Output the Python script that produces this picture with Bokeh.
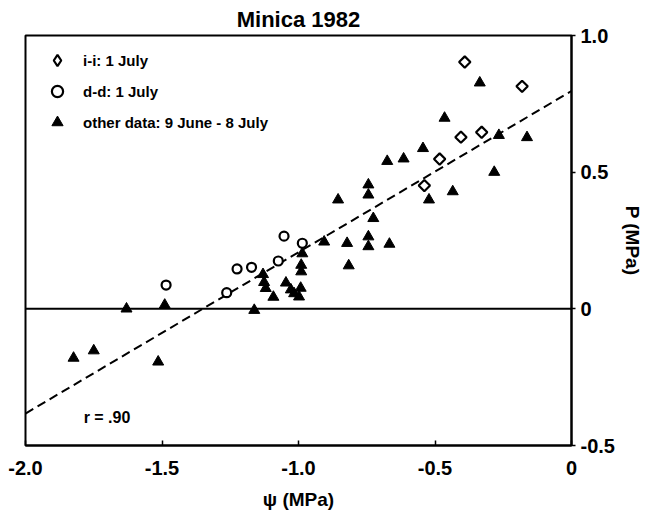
import math
from bokeh.plotting import figure
from bokeh.models import (Range1d, FixedTicker, Span, Label, Legend, LegendItem)
from bokeh.embed import file_html
from bokeh.resources import INLINE

# ---- data ----
ii_x = [-0.391, -0.181, -0.405, -0.329, -0.483, -0.539]
ii_y = [0.903, 0.814, 0.628, 0.646, 0.548, 0.451]

dd_x = [-1.485, -1.263, -1.225, -1.172, -1.074, -1.053, -0.986]
dd_y = [0.087, 0.059, 0.146, 0.152, 0.175, 0.266, 0.240]

other_x = [-1.824, -1.750, -1.514, -1.630, -1.490, -1.162,
           -1.130, -1.126, -1.120, -1.092, -1.046, -1.028, -1.016, -0.998, -0.992,
           -0.986, -0.990, -0.990,
           -0.906, -0.855, -0.822, -0.816, -0.744, -0.744, -0.744, -0.744, -0.726,
           -0.667, -0.675, -0.615, -0.544, -0.522, -0.465, -0.435, -0.336, -0.283,
           -0.266, -0.163]
other_y = [-0.180, -0.153, -0.194, 0.000, 0.014, -0.005,
           0.126, 0.097, 0.075, 0.043, 0.095, 0.070, 0.056, 0.044, 0.076,
           0.202, 0.160, 0.136,
           0.245, 0.399, 0.240, 0.158, 0.454, 0.417, 0.264, 0.228, 0.331,
           0.237, 0.540, 0.549, 0.587, 0.399, 0.698, 0.429, 0.827, 0.500,
           0.635, 0.627]

fit_slope = 0.59
fit_intercept = 0.797
r_text = "r = .90"

x_ticks = [-2.0, -1.5, -1.0, -0.5, 0.0]
x_tick_labels = ["-2.0", "-1.5", "-1.0", "-0.5", "0"]
y_ticks = [-0.5, 0.0, 0.5, 1.0]
y_tick_labels = ["-0.5", "0", "0.5", "1.0"]

FONT = "Liberation Sans"
INK = "black"

p = figure(width=647, height=520, output_backend="svg", toolbar_location=None,
           x_range=Range1d(-2.0, 0.0), y_range=Range1d(-0.5, 1.0),
           y_axis_location="right", title="Minica 1982",
           min_border_left=25, min_border_right=76, min_border_top=33,
           min_border_bottom=77)
p.frame_width = 546
p.frame_height = 410
p.grid.visible = False
p.background_fill_color = "white"
p.border_fill_color = "white"
p.outline_line_color = INK
p.outline_line_width = 2

p.title.align = "center"
p.title.text_font = FONT
p.title.text_font_style = "bold"
p.title.text_font_size = "22px"
p.title.text_color = INK
p.title.standoff = 8

xa = p.xaxis[0]
xa.ticker = FixedTicker(ticks=x_ticks)
xa.major_label_overrides = dict(zip(x_ticks, x_tick_labels))
xa.major_tick_in = 5
xa.major_tick_out = 0
xa.minor_tick_line_color = None
xa.axis_line_width = 2
xa.axis_line_color = INK
xa.major_tick_line_color = INK
xa.major_tick_line_width = 1.5
xa.major_label_text_font = FONT
xa.major_label_text_font_style = "bold"
xa.major_label_text_font_size = "20px"
xa.major_label_text_color = INK
xa.major_label_standoff = 15
xa.axis_label = "\u03c8 (MPa)"
xa.axis_label_text_font = FONT
xa.axis_label_text_font_style = "bold"
xa.axis_label_text_font_size = "19px"
xa.axis_label_text_color = INK
xa.axis_label_standoff = 11

ya = p.yaxis[0]
ya.ticker = FixedTicker(ticks=y_ticks)
ya.major_label_overrides = dict(zip(y_ticks, y_tick_labels))
ya.major_tick_in = 0
ya.major_tick_out = 4
ya.minor_tick_line_color = None
ya.axis_line_width = 2
ya.axis_line_color = INK
ya.major_tick_line_color = INK
ya.major_tick_line_width = 1.5
ya.major_label_text_font = FONT
ya.major_label_text_font_style = "bold"
ya.major_label_text_font_size = "20px"
ya.major_label_text_color = INK
ya.major_label_standoff = 5
ya.axis_label = "P (MPa)"
ya.axis_label_text_font = FONT
ya.axis_label_text_font_style = "bold"
ya.axis_label_text_font_size = "19px"
ya.axis_label_text_color = INK
ya.axis_label_standoff = 4

# zero line
p.add_layout(Span(location=0, dimension="width", line_color=INK, line_width=2))

# regression line
fx = [x_ticks[0], x_ticks[-1]]
fy = [fit_intercept + fit_slope * v for v in fx]
p.line(fx, fy, line_color=INK, line_width=2, line_dash="9 5")

r_other = p.scatter(other_x, other_y, marker="triangle", size=11,
                    fill_color=INK, line_color=INK)
r_dd = p.scatter(dd_x, dd_y, marker="circle", size=9, fill_color="white",
                 line_color=INK, line_width=2.2)
r_ii = p.scatter(ii_x, ii_y, marker="square", angle=math.pi / 4, size=8,
                 fill_color="white", line_color=INK, line_width=2.2)
# legend swatch for the diamonds (a single NaN point, never drawn)
r_ii_key = p.scatter([float("nan")], [float("nan")], marker="diamond", size=14,
                     fill_color="white", line_color=INK, line_width=2.2)

legend = Legend(items=[LegendItem(label="i-i: 1 July", renderers=[r_ii_key]),
                       LegendItem(label="d-d: 1 July", renderers=[r_dd]),
                       LegendItem(label="other data: 9 June - 8 July", renderers=[r_other])],
                location="top_left", border_line_alpha=0, background_fill_alpha=0,
                glyph_width=42, glyph_height=28, spacing=3, label_standoff=5,
                padding=1, margin=10, label_text_font=FONT, label_text_color=INK,
                label_text_font_style="bold", label_text_font_size="15px")
p.add_layout(legend)

p.add_layout(Label(x=-1.787, y=-0.398, text=r_text, text_font=FONT,
                   text_color=INK, text_font_style="bold", text_font_size="16px",
                   text_baseline="middle"))

open("out.html", "w").write(file_html(p, INLINE))
